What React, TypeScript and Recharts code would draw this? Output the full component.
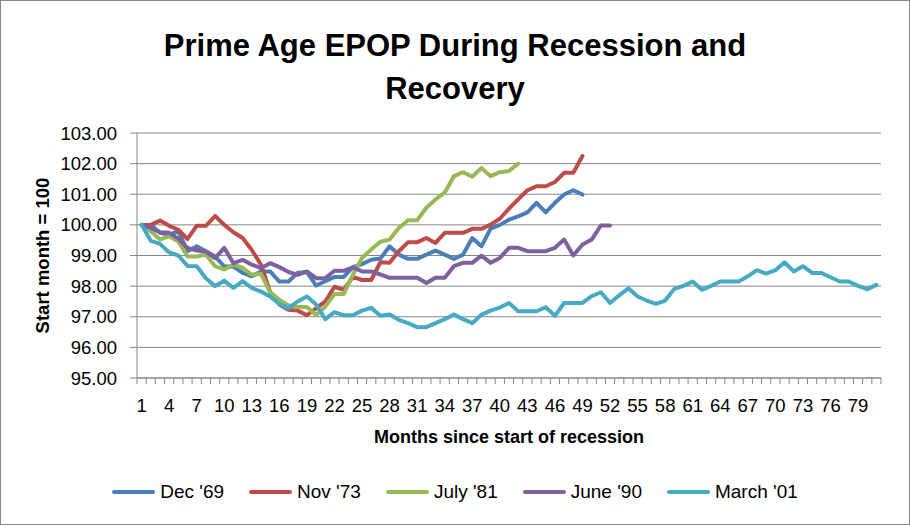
import { LineChart, Line, XAxis, YAxis, CartesianGrid, Legend, Label } from 'recharts'

const months = Array.from({ length: 81 }, (_, i) => i + 1)

const dec69 = [
    100, 100, 99.74, 99.68, 99.79, 99.14, 99.3, 99.14, 98.97, 98.64,
    98.64, 98.43, 98.32, 98.48, 98.48, 98.15, 98.15, 98.44, 98.46, 98.02,
    98.16, 98.3, 98.3, 98.62, 98.72, 98.86, 98.9, 99.3, 99.03, 98.89,
    98.89, 99.03, 99.16, 99.03, 98.89, 99.03, 99.57, 99.3, 99.88, 100.0,
    100.17, 100.28, 100.41, 100.72, 100.41, 100.72, 100.99, 101.13, 100.99,
]

const nov73 = [
    100, 100.0, 100.14, 99.97, 99.84, 99.54, 99.97, 99.97, 100.29, 100.0,
    99.76, 99.57, 99.18, 98.7, 97.8, 97.4, 97.23, 97.2, 97.05, 97.27,
    97.5, 97.98, 97.88, 98.3, 98.2, 98.2, 98.78, 98.76, 99.14, 99.43,
    99.43, 99.57, 99.41, 99.74, 99.74, 99.74, 99.87, 99.87, 100.01, 100.2,
    100.53, 100.83, 101.13, 101.26, 101.26, 101.4, 101.7, 101.7, 102.25,
]

const july81 = [
    100, 99.79, 99.52, 99.63, 99.46, 98.97, 98.97, 99.03, 98.65, 98.54,
    98.7, 98.6, 98.37, 98.4, 97.8, 97.55, 97.37, 97.33, 97.32, 97.06,
    97.33, 97.74, 97.74, 98.37, 98.92, 99.2, 99.45, 99.52, 99.9, 100.15,
    100.15, 100.56, 100.83, 101.05, 101.59, 101.72, 101.57, 101.86, 101.59, 101.72,
    101.76, 102.0,
]

const june90 = [
    100, 99.9, 99.76, 99.74, 99.55, 99.25, 99.16, 99.13, 98.91, 99.25,
    98.75, 98.86, 98.7, 98.59, 98.75, 98.62, 98.46, 98.37, 98.48, 98.26,
    98.26, 98.5, 98.5, 98.61, 98.48, 98.48, 98.38, 98.27, 98.27, 98.27,
    98.27, 98.1, 98.27, 98.27, 98.65, 98.76, 98.76, 99.0, 98.76, 98.92,
    99.25, 99.25, 99.14, 99.14, 99.14, 99.25, 99.52, 99.0, 99.36, 99.52,
    99.98, 99.98,
]

const march01 = [
    100, 99.48, 99.38, 99.1, 99.0, 98.66, 98.65, 98.26, 98.0, 98.18,
    97.94, 98.16, 97.94, 97.82, 97.66, 97.42, 97.28, 97.5, 97.66, 97.4,
    96.92, 97.15, 97.05, 97.05, 97.2, 97.29, 97.03, 97.07, 96.9, 96.79,
    96.66, 96.66, 96.79, 96.92, 97.07, 96.92, 96.79, 97.07, 97.2, 97.3,
    97.45, 97.18, 97.18, 97.18, 97.31, 97.03, 97.45, 97.45, 97.45, 97.67,
    97.8, 97.45, 97.7, 97.93, 97.66, 97.53, 97.42, 97.53, 97.91, 98.01,
    98.15, 97.88, 98.01, 98.15, 98.15, 98.15, 98.32, 98.52, 98.41, 98.52,
    98.78, 98.48, 98.65, 98.43, 98.43, 98.29, 98.15, 98.15, 98.01, 97.9,
    98.04,
]

const yTicks = [95, 96, 97, 98, 99, 100, 101, 102, 103]

const series = [
    { key: 'dec69', name: "Dec '69", color: '#4A7EBB', values: dec69 },
    { key: 'nov73', name: "Nov '73", color: '#BE4B48', values: nov73 },
    { key: 'july81', name: "July '81", color: '#98B954', values: july81 },
    { key: 'june90', name: "June '90", color: '#7D60A0', values: june90 },
    { key: 'march01', name: "March '01", color: '#46AAC5', values: march01 },
]

const data = months.map((m, i) => {
    const row: Record<string, number | undefined> = { month: m }
    series.forEach((s) => {
        row[s.key] = s.values[i]
    })
    return row
})

const FONT = '"Liberation Sans", Arial, sans-serif'
const GRID = '#868686'
const PLOT_W = 744
const STEP = PLOT_W / months.length

function MonthTick(props: any) {
    const { x, y, payload, index } = props
    const half = STEP / 2
    const last = index === months.length - 1
    return (
        <g>
            <line x1={x - half} x2={x - half} y1={y} y2={y + 6} stroke={GRID} />
            {last && <line x1={x + half} x2={x + half} y1={y} y2={y + 6} stroke={GRID} />}
            {index % 3 === 0 && (
                <text x={x} y={y + 27} textAnchor="middle" dominantBaseline="central" fontSize={18.5} fontFamily={FONT} fill="#000">
                    {payload.value}
                </text>
            )}
        </g>
    )
}

function YTitle(props: any) {
    const vb = props.viewBox
    const cx = vb.x + 42
    const cy = vb.y + vb.height / 2
    return (
        <text x={cx} y={cy} transform={`rotate(-90, ${cx}, ${cy})`} textAnchor="middle" dominantBaseline="central"
            fontSize={18.5} fontWeight="bold" fontFamily={FONT} fill="#000">
            Start month = 100
        </text>
    )
}

function XTitle(props: any) {
    const vb = props.viewBox
    return (
        <text x={vb.x + vb.width / 2} y={vb.y + 59} textAnchor="middle" dominantBaseline="central"
            fontSize={18} fontWeight="bold" fontFamily={FONT} fill="#000">
            Months since start of recession
        </text>
    )
}

function LegendContent() {
    return (
        <div style={{ height: 30, display: 'flex', justifyContent: 'center', alignItems: 'center', fontFamily: FONT, fontSize: 19 }}>
            {series.map((s, i) => (
                <div key={s.key} style={{ display: 'flex', alignItems: 'center', marginRight: i === series.length - 1 ? 0 : 25 }}>
                    <div style={{ width: 43, height: 4, borderRadius: 2, background: s.color, marginRight: 5 }} />
                    <span>{s.name}</span>
                </div>
            ))}
        </div>
    )
}

export default function App() {
    return (
        <div style={{ position: 'absolute', left: 0, top: 0, width: 910, height: 525, background: '#fff' }}>
            <div style={{
                position: 'absolute', top: 24, left: 0, width: 910, textAlign: 'center',
                fontFamily: FONT, fontWeight: 'bold', fontSize: 31, lineHeight: '43px', color: '#000',
            }}>
                Prime Age EPOP During Recession and<br />Recovery
            </div>
            <LineChart width={910} height={525} data={data} margin={{ top: 133, right: 29, bottom: 18, left: 0 }}>
                <CartesianGrid vertical={false} stroke={GRID} />
                <XAxis
                    dataKey="month"
                    interval={0}
                    padding={{ left: STEP / 2, right: STEP / 2 }}
                    axisLine={{ stroke: GRID }}
                    tickLine={false}
                    tickSize={0}
                    tickMargin={0}
                    tick={<MonthTick />}
                    height={99}
                >
                    <Label content={<XTitle />} />
                </XAxis>
                <YAxis
                    width={137}
                    domain={[95, 103]}
                    ticks={yTicks}
                    interval={0}
                    tickFormatter={(v: number) => v.toFixed(2)}
                    axisLine={{ stroke: GRID }}
                    tickLine={{ stroke: GRID }}
                    tickSize={7}
                    tickMargin={13}
                    tick={{ fill: '#000', fontSize: 18.5, fontFamily: FONT }}
                >
                    <Label content={<YTitle />} />
                </YAxis>
                <Legend verticalAlign="bottom" content={<LegendContent />} wrapperStyle={{ left: 0, width: 910 }} />
                {series.map((s) => (
                    <Line
                        key={s.key}
                        dataKey={s.key}
                        name={s.name}
                        stroke={s.color}
                        strokeWidth={4}
                        strokeLinejoin="round"
                        strokeLinecap="round"
                        dot={false}
                        activeDot={false}
                        isAnimationActive={false}
                    />
                ))}
            </LineChart>
            <div style={{ position: 'absolute', left: 0, top: 0, width: 910, height: 525, boxSizing: 'border-box', border: `1px solid ${GRID}`, pointerEvents: 'none' }} />
        </div>
    )
}
